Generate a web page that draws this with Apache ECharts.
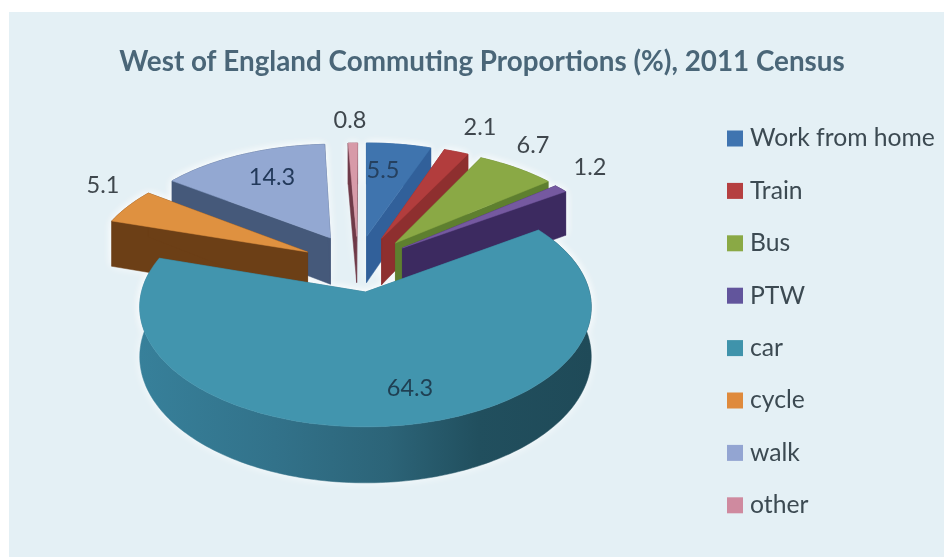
<!DOCTYPE html>
<html><head><meta charset="utf-8">
<style>html,body{margin:0;padding:0;background:#fff}#c{width:944px;height:557px}</style>
<script src="https://cdn.jsdelivr.net/npm/echarts@6/dist/echarts.min.js"></script>
</head><body><div id="c"></div>
<script>
const categories = ['Work from home','Train','Bus','PTW','car','cycle','walk','other'];
const shares = [5.5,2.1,6.7,1.2,64.3,5.1,14.3,0.8];
const valueLabels = ['5.5','2.1','6.7','1.2','64.3','5.1','14.3','0.8'];

// styling and layout
const topColors = ['#3f74ae','#b23d3d','#8aa945','#7559a0','#4295ae','#df9140','#93a8d2','#d79aa8'];
const sideColors = ['#31609a','#8e2f2f','#5e7f2f','#3c2a60','#2f7288','#6c3f16','#45597a','#6f3a48'];
const legendColors = ['#3f74b0','#b53f40','#8aa945','#62559c','#3f93ab','#df8a3c','#93a5d2','#cf8a9f'];
const labelColors = ['#25405f','#3f474d','#3f474d','#3f474d','#1f3f52','#3f474d','#22395a','#3f474d'];
const explodeU = [0.005,0.076,0.141,0.173,0,-0.27,-0.166,-0.042];
const explodeV = [0.5,0.48,0.438,0.391,0,0.354,0.485,0.5];
const labelX = [383,480,533,590,410,103,272,350];
const labelY = [170,127,145,167,388,185,177,120];
const drawOrder = [7,0,1,2,3,6,5,4];
const view = {cx:365.5, cy:292, R:224, A:118, d:8, H:49};

function project(u,v,h){
  const s = 1/(1+v/view.d);
  return [view.cx+view.R*u*s, view.cy-view.A*v*s+h*view.H*s];
}
const total = shares.reduce((a,b)=>a+b,0);
function startShare(i){ let t=0; for(let k=0;k<i;k++) t+=shares[k]; return t; }

function geom(i,value){
  const a0 = startShare(i)/total*2*Math.PI;
  const a1 = a0 + value/total*2*Math.PI;
  const du = explodeU[i], dv = explodeV[i];
  const steps = Math.max(3, Math.ceil((a1-a0)/0.02));
  const rimTop=[], rimBot=[];
  for(let k=0;k<=steps;k++){
    const a=a0+(a1-a0)*k/steps;
    rimTop.push(project(Math.sin(a)+du,Math.cos(a)+dv,0));
    rimBot.push(project(Math.sin(a)+du,Math.cos(a)+dv,1));
  }
  return {rimTop,rimBot,steps,tipT:project(du,dv,0),tipB:project(du,dv,1)};
}

function sliceItem(i){
  return function(params, api){
    const g = geom(i, api.value(0));
    const side = categories[i]==='car'
      ? new echarts.graphic.LinearGradient(0,0,1,0,[
          {offset:0,color:'#37809a'},{offset:0.3,color:'#32728a'},
          {offset:0.55,color:'#2c6478'},{offset:0.75,color:'#214f5e'},{offset:1,color:'#1f4a58'}])
      : sideColors[i];
    const poly=(pts,fill,z2)=>({type:'polygon',z2,shape:{points:pts},
      style:{fill,stroke:fill,lineWidth:0.5},silent:true});
    return {type:'group',children:[
      poly(g.rimTop.concat(g.rimBot.slice().reverse()),side,1),
      poly([g.tipT,g.rimTop[0],g.rimBot[0],g.tipB],sideColors[i],2),
      poly([g.tipT,g.rimTop[g.steps],g.rimBot[g.steps],g.tipB],sideColors[i],2),
      poly([g.tipT].concat(g.rimTop),topColors[i],3),
      {type:'text',z2:10,silent:true,x:labelX[i],y:labelY[i],
       style:{text:valueLabels[i],fontFamily:'Lato',fontSize:23.5,fill:labelColors[i],align:'center',verticalAlign:'middle'}}
    ]};
  };
}

// soft light halo behind the slices, as in the reference's image
function haloItem(params, api){
  const i = params.dataIndex;
  const g = geom(i, api.value(0));
  const halo = {shadowBlur:10,shadowColor:'rgba(255,255,255,0.8)',fill:'#f4f9fb'};
  return {type:'group',children:[
    {type:'polygon',shape:{points:[g.tipT].concat(g.rimTop)},style:halo,silent:true},
    {type:'polygon',shape:{points:g.rimTop.concat(g.rimBot.slice().reverse())},style:halo,silent:true},
    {type:'polygon',shape:{points:[g.tipT,g.rimTop[0],g.rimBot[0],g.tipB]},style:halo,silent:true},
    {type:'polygon',shape:{points:[g.tipT,g.rimTop[g.steps],g.rimBot[g.steps],g.tipB]},style:halo,silent:true}
  ]};
}

const series = [{
  type:'custom', name:'halo', coordinateSystem:'none', silent:true, animation:false, z:1,
  data:shares.map(v=>[v]), renderItem:haloItem
}].concat(drawOrder.map(i=>({
  type:'custom', name:categories[i], coordinateSystem:'none',
  silent:true, animation:false, z:2,
  itemStyle:{color:legendColors[i]},
  data:[[shares[i]]],
  renderItem:sliceItem(i)
})));

const chart = echarts.init(document.getElementById('c'),null,{renderer:'canvas'});
chart.setOption({
  animation:false,
  backgroundColor:'#ffffff',
  graphic:[{type:'rect',z:-10,silent:true,shape:{x:9,y:12,width:935,height:545},style:{fill:'#e4f0f5'}}],
  title:{text:'West of England Commuting Proportions (%), 2011 Census',left:477,top:43,textAlign:'center',
    textStyle:{fontFamily:'Lato',fontWeight:'bold',fontSize:27.8,color:'#4a6678'}},
  legend:{orient:'vertical',left:722,top:121,itemWidth:16,itemHeight:16,itemGap:27.4,icon:'rect',
    data:categories,selectedMode:false,
    textStyle:{fontFamily:'Lato',fontSize:24.7,color:'#3c4a52',padding:[0,0,0,2]}},
  series
});
</script></body></html>
